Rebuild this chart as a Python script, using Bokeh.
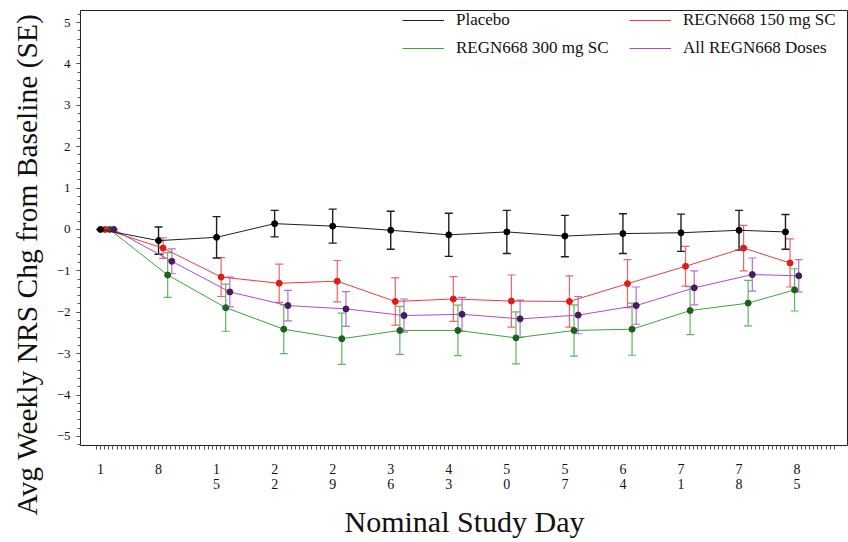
import numpy as np
from bokeh.plotting import figure
from bokeh.models import (ColumnDataSource, FixedTicker, Whisker, TeeHead, Legend,
                          LegendItem, Title, Range1d)
from bokeh.transform import dodge
from bokeh.embed import file_html
from bokeh.resources import INLINE

# ---------------- data ----------------
visit_day = [1, 8, 15, 22, 29, 36, 43, 50, 57, 64, 71, 78, 83.6]
tick_days = [1, 8, 15, 22, 29, 36, 43, 50, 57, 64, 71, 78, 85]
tick_labels = ["1", "8", "1\n5", "2\n2", "2\n9", "3\n6", "4\n3", "5\n0", "5\n7",
               "6\n4", "7\n1", "7\n8", "8\n5"]

placebo_mean = [0.0, -0.27, -0.19, 0.14, 0.08, -0.02, -0.13, -0.06, -0.16, -0.10, -0.08, -0.02, -0.06]
placebo_se = [0.0, 0.33, 0.50, 0.32, 0.41, 0.46, 0.52, 0.52, 0.50, 0.48, 0.45, 0.48, 0.42]

regn150_mean = [0.0, -0.45, -1.15, -1.30, -1.25, -1.74, -1.68, -1.73, -1.74, -1.31, -0.89, -0.45, -0.81]
regn150_se = [0.0, 0.25, 0.47, 0.46, 0.50, 0.57, 0.54, 0.63, 0.62, 0.58, 0.48, 0.55, 0.58]

regn300_mean = [0.0, -1.10, -1.89, -2.41, -2.64, -2.44, -2.44, -2.62, -2.44, -2.41, -1.96, -1.78, -1.46]
regn300_se = [0.0, 0.54, 0.57, 0.59, 0.62, 0.58, 0.61, 0.63, 0.62, 0.63, 0.58, 0.55, 0.51]

all_mean = [0.0, -0.77, -1.51, -1.84, -1.92, -2.08, -2.05, -2.16, -2.07, -1.84, -1.41, -1.09, -1.12]
all_se = [0.0, 0.30, 0.36, 0.37, 0.42, 0.40, 0.41, 0.45, 0.45, 0.45, 0.41, 0.40, 0.39]

series_names = ["Placebo", "REGN668 150 mg SC", "REGN668 300 mg SC", "All REGN668 Doses"]
series_means = [placebo_mean, regn150_mean, regn300_mean, all_mean]
series_ses = [placebo_se, regn150_se, regn300_se, all_se]

# ---------------- styles ----------------
line_colors = ["#1e1e1e", "#f03c3c", "#3aa63a", "#a64dd1"]
err_colors = ["#1e1e1e", "#f06464", "#5cb85c", "#b070d8"]
marker_colors = ["#000000", "#e01b1b", "#1f5f1f", "#4a1a5e"]
err_widths = [1.4, 1.2, 1.2, 1.2]
offsets = [0.0, 0.55, 1.1, 1.6]
draw_order = [2, 3, 1, 0]

FONT = "Liberation Serif"

p = figure(width=848, height=542, output_backend="svg", toolbar_location=None,
           x_range=Range1d(-1.41, 91.2), y_range=Range1d(-5.22, 5.29),
           min_border_left=80, min_border_right=0, min_border_top=10, min_border_bottom=97)
p.background_fill_color = "white"
p.border_fill_color = "white"
p.outline_line_color = "#222222"
p.outline_line_width = 1
p.xgrid.visible = False
p.ygrid.visible = False

renderers = {}
for i in draw_order:
    m = series_means[i]
    s = series_ses[i]
    src = ColumnDataSource(dict(day=visit_day, mean=m,
                                upper=[a + b for a, b in zip(m, s)],
                                lower=[a - b for a, b in zip(m, s)]))
    xs = dodge("day", offsets[i], range=p.x_range)
    ln = p.line(x=xs, y="mean", source=src, line_color=line_colors[i], line_width=1)
    wk = Whisker(source=src, base=xs, upper="upper", lower="lower",
                 line_color=err_colors[i], line_width=err_widths[i],
                 upper_head=TeeHead(size=8, line_color=err_colors[i], line_width=err_widths[i]),
                 lower_head=TeeHead(size=8, line_color=err_colors[i], line_width=err_widths[i]))
    p.add_layout(wk)
    p.scatter(x=xs, y="mean", source=src, size=6, marker="circle",
              fill_color=marker_colors[i], line_color=marker_colors[i])
    renderers[i] = ln

# ---------------- axes ----------------
xa = p.xaxis[0]
xa.ticker = FixedTicker(ticks=tick_days, minor_ticks=list(np.arange(0.5, 90.0, 0.5)))
xa.major_label_overrides = {d: lbl for d, lbl in zip(tick_days, tick_labels)}
xa.axis_line_color = None
xa.major_tick_in = 0
xa.major_tick_out = 4
xa.minor_tick_in = 0
xa.minor_tick_out = 4
xa.major_tick_line_color = "#333333"
xa.minor_tick_line_color = "#555555"
xa.major_label_standoff = 12
xa.major_label_text_font = FONT
xa.major_label_text_font_size = "14px"
xa.major_label_text_line_height = 1.05
xa.major_label_text_color = "#111111"
xa.axis_label = "Nominal Study Day"
xa.axis_label_text_font = FONT
xa.axis_label_text_font_size = "30px"
xa.axis_label_text_font_style = "normal"
xa.axis_label_text_color = "#111111"
xa.axis_label_standoff = 10

ya = p.yaxis[0]
ya.ticker = FixedTicker(ticks=list(range(-5, 6)), minor_ticks=list(np.arange(-5.2, 5.21, 0.2)))
ya.axis_line_color = None
ya.major_tick_in = 0
ya.major_tick_out = 4
ya.minor_tick_in = 0
ya.minor_tick_out = 3
ya.major_tick_line_color = "#333333"
ya.minor_tick_line_color = "#555555"
ya.major_label_standoff = 6
ya.major_label_text_font = FONT
ya.major_label_text_font_size = "13px"
ya.major_label_text_color = "#111111"

ytitle = Title(text="Avg Weekly NRS Chg from Baseline (SE)", align="left", offset=-70,
               vertical_align="top",
               text_font=FONT, text_font_size="29.5px", text_font_style="normal",
               text_color="#111111", standoff=18)
p.add_layout(ytitle, "left")

# ---------------- legend ----------------
items = [LegendItem(label=series_names[i], renderers=[renderers[i]]) for i in range(4)]
legend = Legend(items=items, orientation="horizontal", ncols=2, location="top_right",
                glyph_width=42, glyph_height=18, label_height=18, label_width=165,
                label_standoff=12, spacing=8, padding=0, margin=0,
                border_line_color=None, background_fill_alpha=0,
                label_text_font=FONT, label_text_font_size="17px", label_text_color="#111111")
p.add_layout(legend)

open("out.html", "w").write(file_html(p, INLINE))
